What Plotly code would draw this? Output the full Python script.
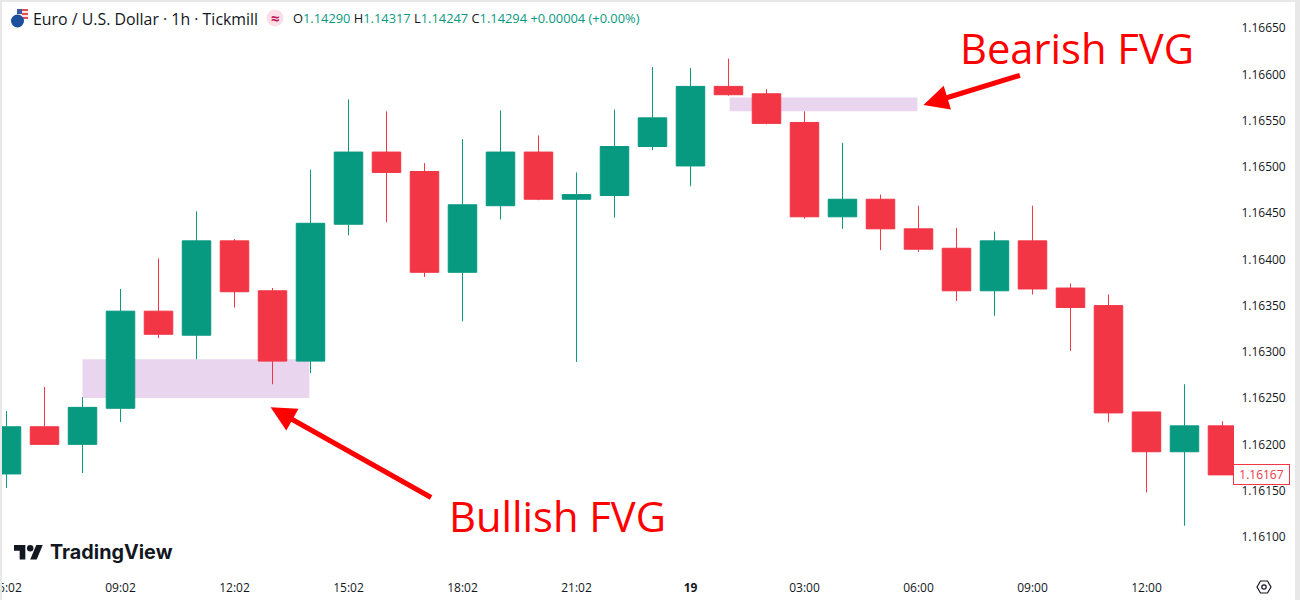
import plotly.graph_objects as go

W, H = 1300, 600
candle_index = list(range(33))
opens = [1.16168,1.16219,1.16200,1.16239,1.16344,1.16318,1.16420,1.16366,1.16290,1.16438,1.16516,1.16495,1.16386,1.16458,1.16516,1.16465,1.16469,1.16522,1.16501,1.16587,1.16579,1.16548,1.16446,1.16465,1.16433,1.16412,1.16366,1.16420,1.16369,1.16350,1.16235,1.16192,1.16220]
highs = [1.16236,1.16262,1.16251,1.16368,1.16401,1.16452,1.16422,1.16369,1.16497,1.16573,1.16560,1.16504,1.16530,1.16561,1.16534,1.16494,1.16562,1.16608,1.16607,1.16617,1.16584,1.16560,1.16526,1.16470,1.16458,1.16434,1.16430,1.16458,1.16374,1.16362,1.16235,1.16265,1.16225]
lows = [1.16153,1.16200,1.16169,1.16224,1.16315,1.16292,1.16348,1.16265,1.16277,1.16426,1.16440,1.16381,1.16333,1.16443,1.16464,1.16289,1.16445,1.16518,1.16479,1.16577,1.16546,1.16444,1.16433,1.16410,1.16408,1.16355,1.16339,1.16362,1.16301,1.16224,1.16148,1.16112,1.16167]
closes = [1.16219,1.16200,1.16240,1.16344,1.16319,1.16420,1.16365,1.16290,1.16439,1.16516,1.16494,1.16386,1.16459,1.16516,1.16465,1.16470,1.16522,1.16553,1.16587,1.16578,1.16547,1.16446,1.16465,1.16433,1.16411,1.16366,1.16420,1.16368,1.16348,1.16234,1.16192,1.16220,1.16167]

x_tick_positions = [0,3,6,9,12,15,18,21,24,27,30]
x_tick_labels = ["06:02","09:02","12:02","15:02","18:02","21:02","<b>19</b>","03:00","06:00","09:00","12:00"]
y_ticks = [1.16100,1.16150,1.16200,1.16250,1.16300,1.16350,1.16400,1.16450,1.16500,1.16550,1.16600,1.16650]
y_tick_labels = [f"{v:.5f}" for v in y_ticks]

bullish_fvg = dict(x0=2.0, x1=7.97, y0=1.16250, y1=1.16292)
bearish_fvg = dict(x0=19.03, x1=23.97, y0=1.16560, y1=1.16575)
last_price = 1.16167

GREEN, RED, INK = "#089981", "#f23645", "#131722"
FONT = "Open Sans"

def px(x): return x / W
def py(y): return 1 - y / H
def P(x, y): return f"{px(x):.5f},{py(y):.5f}"

fig = go.Figure(go.Candlestick(
    x=candle_index, open=opens, high=highs, low=lows, close=closes,
    increasing=dict(line=dict(color=GREEN, width=1), fillcolor=GREEN),
    decreasing=dict(line=dict(color=RED, width=1), fillcolor=RED),
    whiskerwidth=0, showlegend=False,
))

shapes = []
for z in (bullish_fvg, bearish_fvg):
    shapes.append(dict(type="rect", xref="x", yref="y", layer="below", line_width=0,
                       fillcolor="#e9d5ee", **z))

# window frame
for (a, b, c, d) in [(0, 0, 2, 600), (0, 0, 1300, 2), (1295, 0, 1300, 600)]:
    shapes.append(dict(type="rect", xref="paper", yref="paper", layer="above", line_width=0,
                       fillcolor="#e8e8e8", x0=px(a), x1=px(c), y0=py(d), y1=py(b)))

def circle(cx, cy, r, **kw):
    shapes.append(dict(type="circle", xref="paper", yref="paper", layer="above",
                       x0=px(cx - r), x1=px(cx + r), y0=py(cy + r), y1=py(cy - r), **kw))

def path(points, **kw):
    d = "M" + " L".join(P(*p) for p in points) + " Z"
    shapes.append(dict(type="path", xref="paper", yref="paper", layer="above", path=d, **kw))

# header icons
path([(17, 9), (28, 9), (28, 19), (17, 19)], fillcolor="#f4e4e4", line_width=0)
path([(17, 9), (22, 9), (22, 14), (17, 14)], fillcolor="#3b5ba5", line_width=0)
path([(22, 9), (28, 9), (28, 11), (22, 11)], fillcolor="#e05050", line_width=0)
path([(22, 13), (28, 13), (28, 15), (22, 15)], fillcolor="#e05050", line_width=0)
path([(22, 17), (28, 17), (28, 19), (22, 19)], fillcolor="#e05050", line_width=0)
circle(17.5, 21, 6.5, fillcolor="#1c4f9c", line_width=0)
circle(275, 18, 8.5, fillcolor="#fbdfe8", line_width=0)

# TradingView logo
s, ox, oy = 0.81, 14, 541.8
def L(pts): return [(ox + a * s, oy + b * s) for a, b in pts]
path(L([(0, 4), (14, 4), (14, 22), (7, 22), (7, 11), (0, 11)]), fillcolor=INK, line_width=0)
path(L([(27.5, 4), (35.5, 4), (28, 22), (20, 22)]), fillcolor=INK, line_width=0)
circle(ox + 20 * s, oy + 8 * s, 4 * s, fillcolor=INK, line_width=0)

# settings icon
path([(1257, 587), (1260.5, 581), (1267.5, 581), (1271, 587), (1267.5, 593), (1260.5, 593)],
     line=dict(color=INK, width=1.2), fillcolor="rgba(0,0,0,0)")
circle(1264, 587, 2.2, line=dict(color=INK, width=1.2), fillcolor="rgba(0,0,0,0)")

ann = []
def text(x, y, s, size, color=INK, family=FONT, anchor="left"):
    ann.append(dict(xref="paper", yref="paper", x=px(x), y=py(y), text=s, showarrow=False,
                    xanchor=anchor, yanchor="middle", align=anchor,
                    font=dict(size=size, color=color, family=family)))

text(31, 19, "Euro / U.S. Dollar · 1h · Tickmill", 15.9)
text(275, 18, "<b>≈</b>", 15, "#c2185b", anchor="center")
g = lambda v: f'<span style="color:{GREEN}">{v}</span>'
text(291, 18, f"O{g('1.14290')} H{g('1.14317')} L{g('1.14247')} C{g('1.14294')} {g('+0.00004 (+0.00%)')}", 12.85)
text(48, 552, "<b>TradingView</b>", 19.8, family="Inter")
text(447, 515, "Bullish FVG", 41.7, "#ff0000", anchor="left")
text(958, 47, "Bearish FVG", 41.7, "#ff0000", anchor="left")

for tip_x, tip_y, ax, ay in [(6.95, 1.16240, 162, 91), (24.13, 1.16567, 98, -30)]:
    ann.append(dict(xref="x", yref="y", x=tip_x, y=tip_y, ax=ax, ay=ay, axref="pixel", ayref="pixel",
                    text="", showarrow=True, arrowhead=2, arrowsize=1.0, arrowwidth=5,
                    arrowcolor="#ff0000", standoff=0))

ann.append(dict(xref="paper", yref="y", x=px(1261.5), y=last_price, text=f"{last_price:.5f}",
                showarrow=False, xanchor="center", yanchor="middle",
                font=dict(size=12, color=RED, family=FONT), bgcolor="#ffffff",
                bordercolor=RED, borderwidth=1, borderpad=1, width=53))

fig.update_layout(
    width=W, height=H, margin=dict(l=0, r=0, t=0, b=0, autoexpand=False),
    paper_bgcolor="#ffffff", plot_bgcolor="#ffffff", boxgap=0.25, boxgroupgap=0, showlegend=False,
    shapes=shapes, annotations=ann, hovermode=False,
    xaxis=dict(domain=[0, 1234 / W], range=[-0.171, 32.303], rangeslider=dict(visible=False),
               tickmode="array", tickvals=x_tick_positions, ticktext=x_tick_labels, ticklabeloverflow="allow",
               ticks="outside", ticklen=5, tickcolor="rgba(0,0,0,0)", showgrid=False, zeroline=False,
               showline=False, tickfont=dict(size=12, color=INK, family=FONT)),
    yaxis=dict(domain=[1 - 572 / H, 1 - 5 / H], range=[1.16062, 1.16675], side="right",
               tickmode="array", tickvals=y_ticks, ticktext=y_tick_labels,
               ticks="outside", ticklen=4, tickcolor="rgba(0,0,0,0)", showgrid=False, zeroline=False,
               showline=False, tickfont=dict(size=12, color=INK, family=FONT)),
)

fig.write_html("out.html", config=dict(displayModeBar=False),
               post_script="document.body.style.margin='0';document.body.style.overflow='hidden';")
